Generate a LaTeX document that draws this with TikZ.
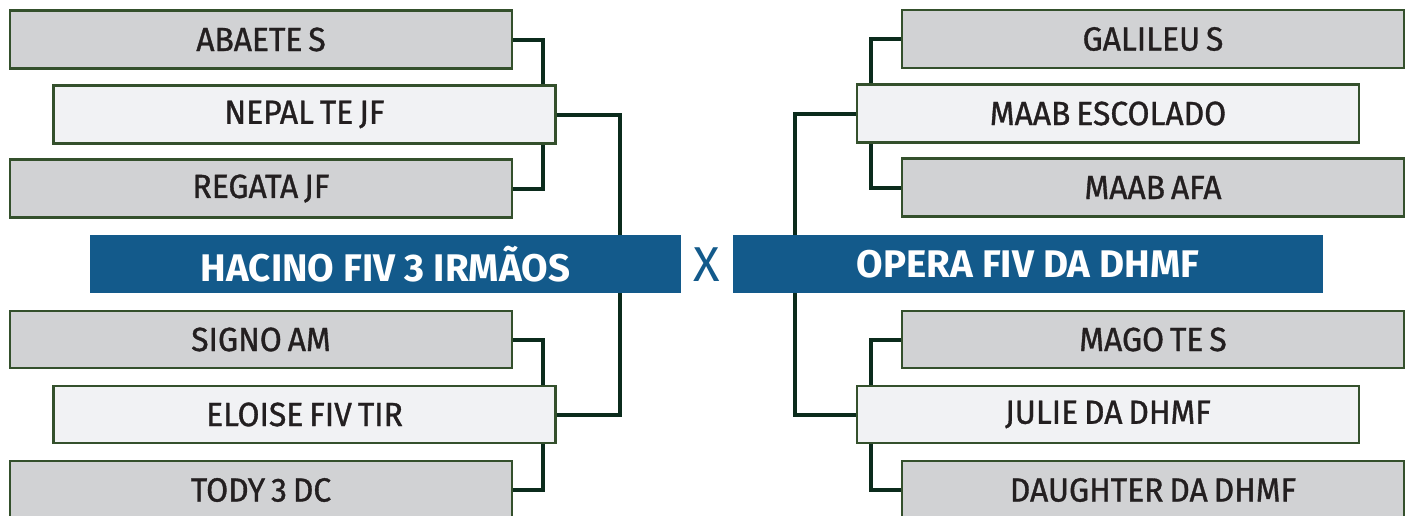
\documentclass[tikz,border=0pt]{standalone}
\usepackage{fontspec}
\setmainfont{Fira Sans}[FakeStretch=0.95, FakeBold=1, WordSpace=0.7]
\newfontfamily\bannerfont{Fira Sans}[WordSpace=0.75]
\newfontfamily\xfont{Fira Sans}
\definecolor{boxgray}{HTML}{D1D2D4}
\definecolor{boxlight}{HTML}{F1F2F4}
\definecolor{boxedge}{HTML}{34502C}
\definecolor{linkcol}{HTML}{0B2B1C}
\definecolor{bannerblue}{HTML}{135A8B}
\definecolor{txtdark}{HTML}{231F20}
\tikzset{
  teambox/.style={rectangle, draw=boxedge, line width=2.5pt, inner sep=0pt,
    text=txtdark, font=\fontsize{33.5}{33.5}\selectfont, minimum height=58pt},
  graybox/.style={teambox, fill=boxgray, minimum width=502pt},
  lightbox/.style={teambox, fill=boxlight, minimum width=502pt},
  banner/.style={rectangle, fill=bannerblue, inner sep=0pt, text=white,
    font=\bannerfont\bfseries\fontsize{38.5}{38.5}\selectfont,
    minimum width=591pt, minimum height=58pt},
  link/.style={draw=linkcol, line width=4pt}
}
\begin{document}
\begin{tikzpicture}[x=1pt, y=-1pt]
\useasboundingbox (0,0) rectangle (1413,515);
\clip (0,0) rectangle (1413,515);
\fill[white] (0,0) rectangle (1413,515);
% reference coordinates for vertical connector lines
\coordinate (lj) at (543,0);
\coordinate (lo) at (620,0);
\coordinate (rj) at (871,0);
\coordinate (ro) at (795,0);
% left bracket
\node[graybox] (abaete) at (261,39.5) {ABAETE S};
\node[lightbox] (nepal) at (304.5,114.5) {NEPAL TE JF};
\node[graybox] (regata) at (261,188.5) {REGATA JF};
\node[banner] (hacino) at (385.5,264) {HACINO FIV 3 IRMÃOS};
\node[graybox, minimum height=57pt] (signo) at (261,339.5) {SIGNO AM};
\node[lightbox, minimum height=57pt] (eloise) at (304.5,414.5) {ELOISE FIV TIR};
\node[graybox] (tody) at (261,490) {TODY 3 DC};
% right bracket
\node[graybox] (galileu) at (1153,39) {GALILEU S};
\node[lightbox] (maabesc) at (1108,113.5) {MAAB ESCOLADO};
\node[graybox] (maabafa) at (1153,187.5) {MAAB AFA};
\node[banner, minimum width=590pt] (opera) at (1028,264) {OPERA FIV DA DHMF};
\node[graybox, minimum height=57pt] (mago) at (1153,339.5) {MAGO TE S};
\node[lightbox, minimum height=57pt] (julie) at (1108,414.5) {JULIE DA DHMF};
\node[graybox] (daughter) at (1153,490) {DAUGHTER DA DHMF};
% versus
\node[text=bannerblue, font=\xfont\fontsize{49}{49}\selectfont, inner sep=0pt] (vs) at (707,265) {X};
% connectors left
\draw[link] (abaete.east) -| (lj |- nepal.north);
\draw[link] (regata.east) -| (lj |- nepal.south);
\draw[link] (nepal.east) -| (lo |- hacino.north);
\draw[link] (lo |- hacino.south) |- (eloise.east);
\draw[link] (signo.east) -| (lj |- eloise.north);
\draw[link] (tody.east) -| (lj |- eloise.south);
% connectors right
\draw[link] (galileu.west) -| (rj |- maabesc.north);
\draw[link] (maabafa.west) -| (rj |- maabesc.south);
\draw[link] (maabesc.west) -| (ro |- opera.north);
\draw[link] (ro |- opera.south) |- (julie.west);
\draw[link] (mago.west) -| (rj |- julie.north);
\draw[link] (daughter.west) -| (rj |- julie.south);
\end{tikzpicture}
\end{document}
